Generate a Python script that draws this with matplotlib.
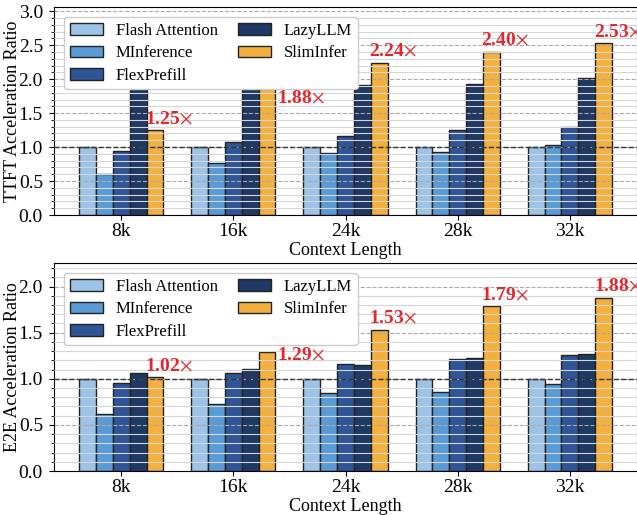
import matplotlib.pyplot as plt
import numpy as np
from matplotlib.ticker import MultipleLocator

plt.rcParams['font.family'] = ['Liberation Serif', 'DejaVu Serif']
plt.rcParams['mathtext.fontset'] = 'stix'

contexts = ['8k', '16k', '24k', '28k', '32k']
methods = ['Flash Attention', 'MInference', 'FlexPrefill', 'LazyLLM', 'SlimInfer']
colors = ['#9dc3e6', '#5b9bd5', '#2f5597', '#1f3864', '#f4b03e']

# TTFT speedups
ttft = {
    'Flash Attention': [1.0, 1.0, 1.0, 1.0, 1.0],
    'MInference': [0.60, 0.77, 0.92, 0.93, 1.03],
    'FlexPrefill': [0.94, 1.08, 1.17, 1.25, 1.30],
    'LazyLLM': [1.85, 1.89, 1.92, 1.93, 2.02],
    'SlimInfer': [1.25, 1.88, 2.24, 2.40, 2.53],
}

# end-to-end speedups
e2e = {
    'Flash Attention': [1.0, 1.0, 1.0, 1.0, 1.0],
    'MInference': [0.62, 0.73, 0.85, 0.86, 0.94],
    'FlexPrefill': [0.95, 1.06, 1.16, 1.22, 1.26],
    'LazyLLM': [1.06, 1.11, 1.15, 1.225, 1.27],
    'SlimInfer': [1.02, 1.29, 1.53, 1.79, 1.88],
}

fig = plt.figure(figsize=(6.37, 5.15), dpi=100)
ax1 = fig.add_axes([0.0848, 0.5825, 0.9152, 0.4039])
ax2 = fig.add_axes([0.0848, 0.0854, 0.9152, 0.4039])

x = np.arange(len(contexts))
w = 0.15


def draw(ax, data, ylabel, ytop, drop16):
    for i, m in enumerate(methods):
        ax.bar(x + (i - 2) * w, data[m], w, color=colors[i], edgecolor='#222222',
               linewidth=1.0, label=m, zorder=2)
    # label SlimInfer bars; the 16k one sits beside its bar (legend is above)
    for j, (xi, v) in enumerate(zip(x, data['SlimInfer'])):
        if j == 1:
            pos, off = (xi + 2 * w + w / 2, v - drop16), (1, 0)
        else:
            pos, off = (xi + 2 * w - w / 2, v), (-1, 5)
        ax.annotate(f'{v:.2f}$\\times$', pos, xytext=off,
                    textcoords='offset points', ha='left', va='baseline',
                    color='#e0282e', fontsize=14, fontweight='bold', zorder=8)
    ax.axhline(1.0, color='#333333', linestyle='--', linewidth=1.0, zorder=4)
    ax.yaxis.set_major_locator(MultipleLocator(0.5))
    ax.yaxis.set_minor_locator(MultipleLocator(0.1))
    ax.grid(which='minor', axis='y', color='#d6d6d6', linewidth=0.8, zorder=3)
    ax.grid(which='major', axis='y', color='#aaaaaa', linestyle='--', linewidth=0.8, zorder=3)
    ax.set_axisbelow(False)
    ax.set_ylim(0, ytop)
    ax.set_xlim(-0.6, 4.6)
    ax.set_xticks(x)
    ax.set_xticklabels(contexts)
    ax.tick_params(labelsize=14)
    ax.tick_params(axis='x', pad=2)
    ax.tick_params(axis='y', pad=4.5)
    ax.set_xlabel('Context Length', fontsize=13, labelpad=2)
    ax.set_ylabel(ylabel, fontsize=13)
    ax.yaxis.set_label_coords(-0.057, 0.5)
    leg = ax.legend(ncol=2, loc='upper left', fontsize=12, framealpha=1,
                    edgecolor='#cccccc', columnspacing=1.2, handlelength=2.0,
                    handletextpad=0.75, labelspacing=0.38, borderpad=0.35,
                    borderaxespad=0.6)
    leg.set_zorder(6)


draw(ax1, ttft, 'TTFT Acceleration Ratio', max(ttft['SlimInfer']) * 1.21, 0.23)
draw(ax2, e2e, 'E2E Acceleration Ratio', max(e2e['SlimInfer']) * 1.2, 0.08)

fig.savefig('out.png', dpi=100)
